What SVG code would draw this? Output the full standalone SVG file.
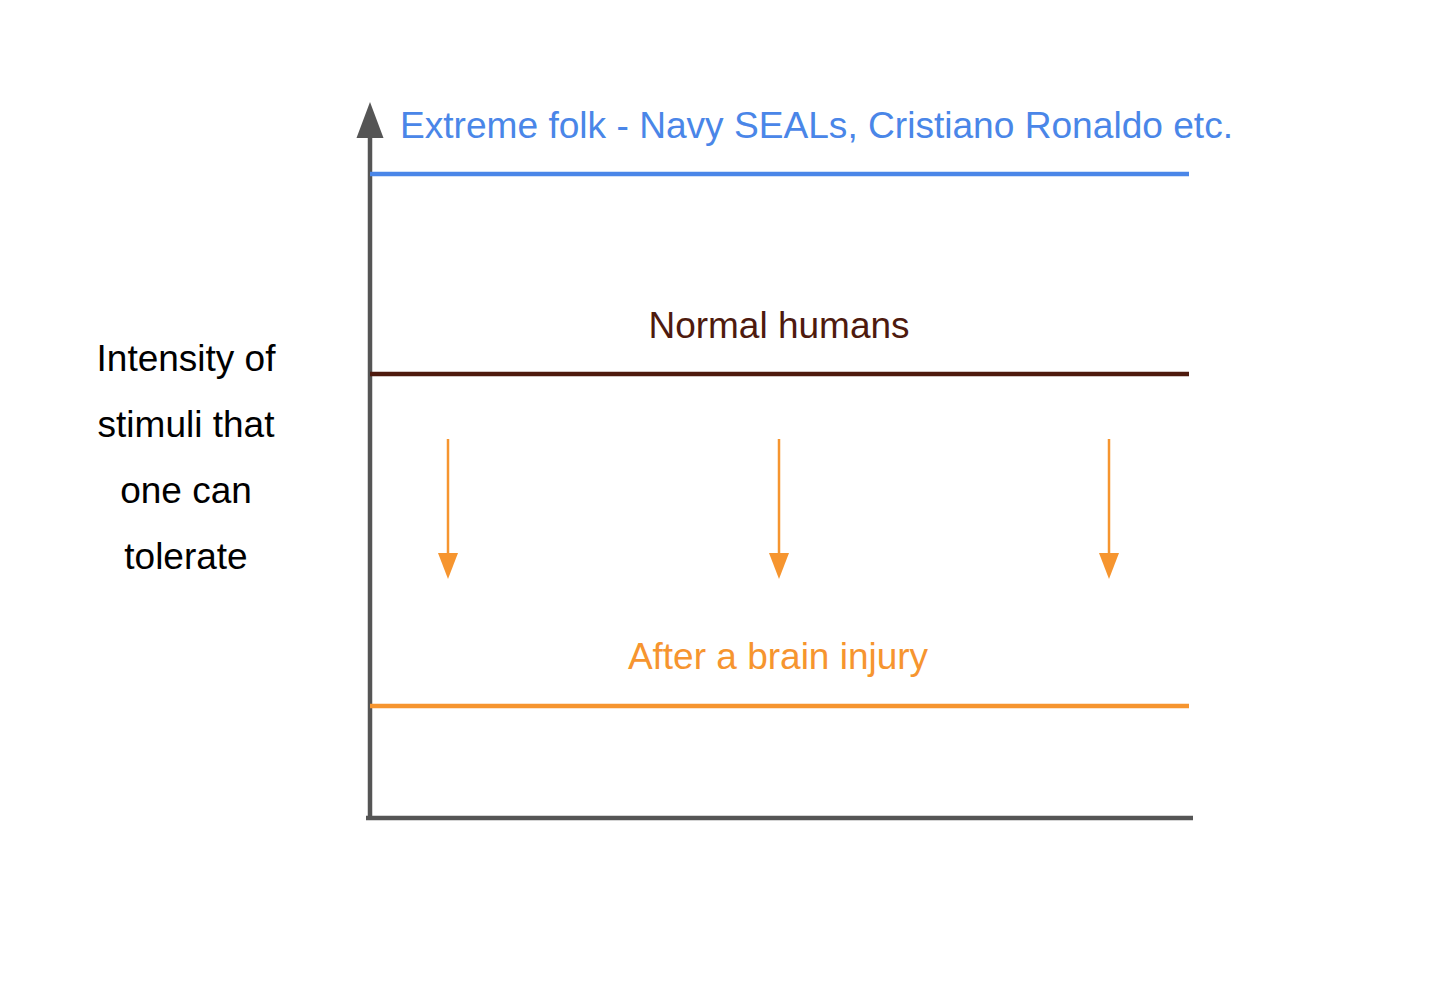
<svg xmlns="http://www.w3.org/2000/svg" width="1440" height="982" viewBox="0 0 1440 982">
<style>
text{font-family:"Liberation Sans",Arial,sans-serif;font-size:37px}
.axis{stroke:#555555;stroke-width:4.5;fill:none}
.lvl{stroke-width:4.5;fill:none}
.arr{stroke:#f6952f;stroke-width:2.5;fill:none}
</style>
<rect width="1440" height="982" fill="#ffffff"/>
<g id="axes">
<line class="axis" x1="370" y1="820" x2="370" y2="134"/>
<polygon points="370,102 356.5,138 383.5,138" fill="#555555"/>
<line class="axis" x1="366" y1="818" x2="1193" y2="818"/>
</g>
<g id="extreme">
<line class="lvl" stroke="#4a86e8" x1="370" y1="174" x2="1189" y2="174"/>
<text x="400" y="138" fill="#4a86e8" textLength="833" lengthAdjust="spacingAndGlyphs">Extreme folk - Navy SEALs, Cristiano Ronaldo etc.</text>
</g>
<g id="normal">
<line class="lvl" stroke="#4e1a0e" x1="370" y1="374" x2="1189" y2="374"/>
<text x="779" y="338" fill="#4e1a0e" text-anchor="middle">Normal humans</text>
</g>
<g id="injury">
<line class="lvl" stroke="#f6952f" x1="370" y1="706" x2="1189" y2="706"/>
<text x="778" y="669" fill="#f6952f" text-anchor="middle">After a brain injury</text>
</g>
<g id="ylabel" fill="#000000" text-anchor="middle">
<text x="186" y="371">Intensity of</text>
<text x="186" y="437">stimuli that</text>
<text x="186" y="503">one can</text>
<text x="186" y="569">tolerate</text>
</g>
<g id="connectors">
<line class="arr" x1="448" y1="439" x2="448" y2="556"/>
<polygon points="438,553 458,553 448,579" fill="#f6952f"/>
<line class="arr" x1="779" y1="439" x2="779" y2="556"/>
<polygon points="769,553 789,553 779,579" fill="#f6952f"/>
<line class="arr" x1="1109" y1="439" x2="1109" y2="556"/>
<polygon points="1099,553 1119,553 1109,579" fill="#f6952f"/>
</g>
</svg>
